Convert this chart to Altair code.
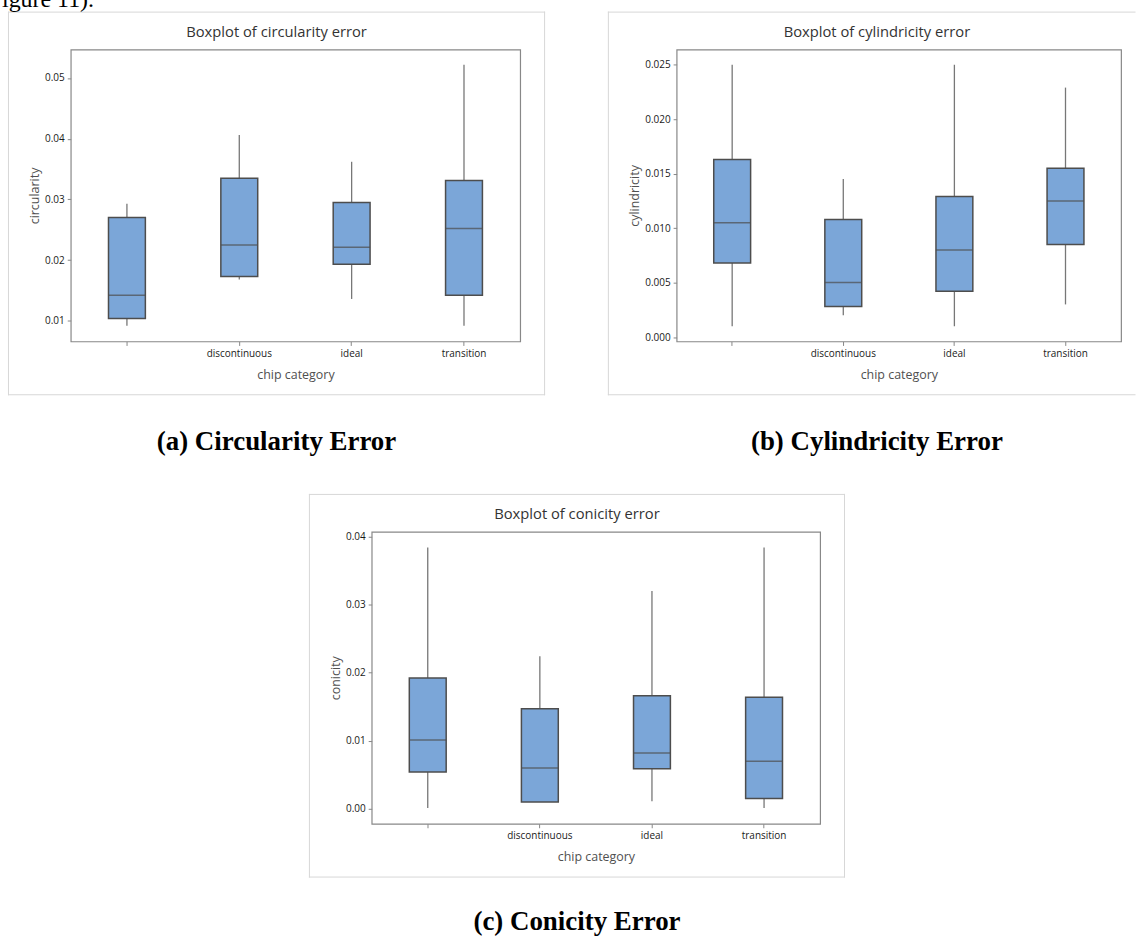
import altair as alt
import pandas as pd

# ---------------- data ----------------
categories = ["blank", "discontinuous", "ideal", "transition"]

circ_low = [0.0092, 0.0168, 0.0136, 0.0092]
circ_q1 = [0.0104, 0.0173, 0.0193, 0.0142]
circ_med = [0.0142, 0.0225, 0.0221, 0.0252]
circ_q3 = [0.0270, 0.0335, 0.0295, 0.0331]
circ_high = [0.0293, 0.0406, 0.0362, 0.0522]
circ_ticks = [0.01, 0.02, 0.03, 0.04, 0.05]

cyl_low = [0.0010, 0.0020, 0.0010, 0.0030]
cyl_q1 = [0.0068, 0.0028, 0.0042, 0.0085]
cyl_med = [0.0105, 0.0050, 0.0080, 0.0125]
cyl_q3 = [0.0163, 0.0108, 0.0129, 0.0155]
cyl_high = [0.0250, 0.0145, 0.0250, 0.0229]
cyl_ticks = [0.0, 0.005, 0.010, 0.015, 0.020, 0.025]

con_low = [0.0001, 0.0010, 0.0011, 0.0001]
con_q1 = [0.0054, 0.0010, 0.0059, 0.0015]
con_med = [0.0101, 0.0060, 0.0082, 0.0070]
con_q3 = [0.0192, 0.0147, 0.0166, 0.0164]
con_high = [0.0384, 0.0224, 0.0320, 0.0384]
con_ticks = [0.0, 0.01, 0.02, 0.03, 0.04]

# ---------------- styles ----------------
BOX_FILL = "#7BA6D8"
EDGE = "#4d4d4d"
WHISK = "#777777"
FRAME = "#d7d7d7"
PLOT_BOX = "#888888"
UI_FONT = "Open Sans"
SERIF = "Liberation Serif"
TOP = -28  # top of the figure cells (above the visible page, cropped)

one = alt.Data(values=[{"k": 1}])


def box_df(low, q1, med, q3, high):
    return pd.DataFrame({"category": categories, "low": low, "q1": q1,
                         "median": med, "q3": q3, "high": high})


def corner(x, y):
    return alt.Chart(one).mark_rect(fill="white").encode(
        x=alt.value(x), x2=alt.value(x + 1), y=alt.value(y), y2=alt.value(y + 1))


def hrule(x1, x2, y, color=FRAME, sw=1):
    return alt.Chart(one).mark_rule(color=color, strokeWidth=sw).encode(
        x=alt.value(x1), x2=alt.value(x2), y=alt.value(y))


def vrule(x, y1, y2, color=FRAME, sw=1):
    return alt.Chart(one).mark_rule(color=color, strokeWidth=sw).encode(
        x=alt.value(x), y=alt.value(y1), y2=alt.value(y2))


def text_at(txt, x, y, font, size, color, weight="normal", align="center", baseline="middle"):
    return alt.Chart(one).mark_text(
        text=txt, font=font, fontSize=size, color=color, fontWeight=weight,
        align=align, baseline=baseline).encode(x=alt.value(x), y=alt.value(y))


def panel(df, title, ytitle, ticks, fmt, domain, w, h, origin, cell, frame,
          title_y, caption, caption_base, ytitle_x, open_right=False, extra=None):
    ox, oy = origin
    L, T, R, B = frame
    cx = (L + R) / 2 - ox

    xs = alt.Scale(domain=categories, paddingInner=0, paddingOuter=0)
    ys = alt.Scale(domain=domain, nice=False, zero=False)
    xax = alt.Axis(
        title="chip category",
        labelExpr="datum.value == 'blank' ? '' : datum.value",
        labelAngle=0, domain=False, grid=False, tickSize=4, tickColor="#888888",
        tickWidth=1, labelFont=UI_FONT, labelFontSize=10, labelColor="#1a1a1a",
        labelPadding=3, titleFont=UI_FONT, titleFontSize=12.5,
        titleFontWeight="normal", titleColor="#505050", titleX=w / 2, titleY=33,
        titleAlign="center", titleBaseline="middle")
    yax = alt.Axis(
        title=ytitle, values=ticks, format=fmt, domain=False, grid=False,
        tickSize=3.5, tickColor="#888888", tickWidth=1, labelFont=UI_FONT,
        labelFontSize=10, labelColor="#1a1a1a", labelPadding=3, labelFlush=False,
        titleFont=UI_FONT, titleFontSize=12.5, titleFontWeight="normal",
        titleColor="#505050", titleAngle=270, titleX=ytitle_x, titleY=h / 2,
        titleAlign="center", titleBaseline="middle")
    X = alt.X("category:N", sort=categories, scale=xs, axis=xax, title="chip category")

    def Y(field):
        return alt.Y(field, type="quantitative", scale=ys, axis=yax, title=ytitle)

    base = alt.Chart(df)
    whisk = base.mark_rule(color=WHISK, strokeWidth=1.3).encode(
        x=X, y=Y("low"), y2="high:Q")
    box = base.mark_bar(size=37, fill=BOX_FILL, stroke=EDGE, strokeWidth=1.5).encode(
        x=X, y=Y("q1"), y2="q3:Q")
    med = base.mark_tick(size=37, thickness=1.5, color=EDGE).encode(
        x=X, y=Y("median"))

    layers = [whisk, box, med]
    # layout corners (white on white) fixing this panel's cell
    c1, c2, c3, c4 = cell
    layers.append(corner(c1 - ox, c2 - oy))
    layers.append(corner(c3 - ox - 1, c4 - oy - 1))
    # outer (Minitab) frame
    right_end = (c3 - ox - 0.5) if open_right else (R - ox + 0.5)
    layers.append(hrule(L - ox - 0.5, right_end, T - oy))
    layers.append(hrule(L - ox - 0.5, right_end, B - oy))
    layers.append(vrule(L - ox, T - oy - 0.5, B - oy + 0.5))
    if not open_right:
        layers.append(vrule(R - ox, T - oy - 0.5, B - oy + 0.5))
    # panel title
    layers.append(text_at(title, cx, title_y - oy, UI_FONT, 14.8, "#333333"))
    # figure caption
    layers.append(text_at(caption, cx, caption_base - oy, SERIF, 27, "#000000",
                          weight="bold", baseline="alphabetic"))
    if extra is not None:
        txt, ex, ey = extra
        layers.append(text_at(txt, ex - ox, ey - oy, SERIF, 24, "#000000",
                              align="left", baseline="alphabetic"))
    return alt.layer(*layers).properties(
        width=w, height=h,
        view=alt.ViewBackground(stroke=PLOT_BOX, strokeWidth=1.2, strokeOpacity=1))


A = panel(box_df(circ_low, circ_q1, circ_med, circ_q3, circ_high),
          "Boxplot of circularity error", "circularity", circ_ticks, ".2f",
          [0.0066, 0.0547], 451, 293, (70, 47), (0, TOP, 576, 470),
          (7.5, 9.5, 545.5, 393.5), 30, "(a) Circularity Error", 449, -36,
          extra=("igure 11).", 1, 4))

B = panel(box_df(cyl_low, cyl_q1, cyl_med, cyl_q3, cyl_high),
          "Boxplot of cylindricity error", "cylindricity", cyl_ticks, ".3f",
          [-0.0004, 0.0264], 446, 293, (676, 47), (576, TOP, 1137, 470),
          (607.5, 9.5, 1146.5, 393.5), 30, "(b) Cylindricity Error", 449, -42,
          open_right=True)

C = panel(box_df(con_low, con_q1, con_med, con_q3, con_high),
          "Boxplot of conicity error", "conicity", con_ticks, ".2f",
          [-0.0022, 0.0407], 450, 293, (371, 529), (307, 470, 1137, 936),
          (308.5, 491.5, 845.5, 875.5), 512, "(c) Conicity Error", 929, -36)

spacer = alt.Chart(one).mark_rect(fill="white").encode(
    x=alt.value(0), x2=alt.value(1), y=alt.value(0), y2=alt.value(1)
).properties(width=237, height=10,
             view=alt.ViewBackground(strokeWidth=0, strokeOpacity=0))

chart = alt.vconcat(
    alt.hconcat(A, B, spacing=0),
    alt.hconcat(spacer, C, spacing=0),
    spacing=0,
).properties(
    padding={"left": 0, "top": TOP, "right": 0, "bottom": 0}
).configure(background="white").configure_view(stroke=PLOT_BOX, strokeWidth=1.2)

chart.save("out.html", embed_options={"renderer": "svg", "actions": False})
